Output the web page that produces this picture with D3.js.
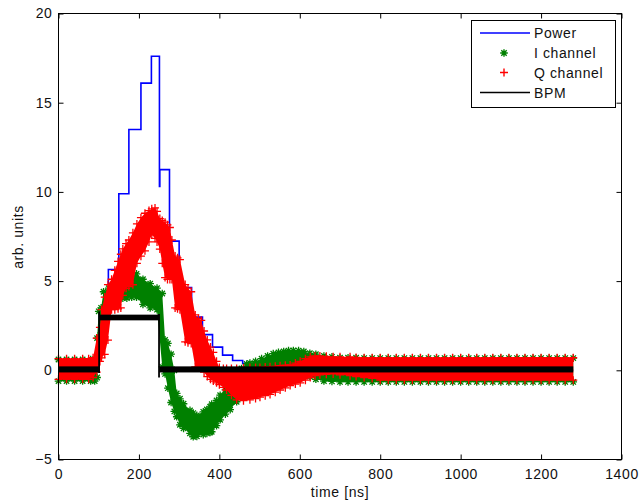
<!DOCTYPE html>
<html>
<head>
<meta charset="utf-8">
<script src="https://cdn.jsdelivr.net/npm/d3@7/dist/d3.min.js"></script>
<style>
  body { margin: 0; background: #fff; }
  text { font-family: "Liberation Sans", Arial, sans-serif; fill: #111; }
</style>
</head>
<body>
<svg width="639" height="502"></svg>
<script>

// tick labels
var xTicks = [0, 200, 400, 600, 800, 1000, 1200, 1400];
var yTicks = [-5, 0, 5, 10, 15, 20];

// Power: step levels, powLevel[i] holds from powEdge[i] to powEdge[i+1]
var powEdge  = [0, 101, 124, 150, 175, 205, 231, 251, 252, 276, 300, 331, 358, 383, 408, 433, 458, 484, 1280];
var powLevel = [0, 3.2, 5.65, 9.9, 13.5, 16.1, 17.6, 10.3, 11.25, 7.24, 4.64, 2.98, 2.0, 1.3, 0.85, 0.55, 0.38, 0];

// I channel: [time, lowest, highest] of the marker cloud
var iCloud = [
  [0,-0.8,0.8],[20,-0.8,0.8],[40,-0.8,0.8],[60,-0.8,0.8],[80,-0.8,0.8],[90,-0.8,0.8],
  [96,-0.6,2.0],[100,0.5,3.5],[106,1.9,3.7],[112,3.0,4.6],[125,3.8,4.8],[138,3.85,4.9],
  [150,3.85,4.95],[160,3.85,5.1],[170,3.85,5.3],[182,3.9,5.45],[194,3.9,5.6],[210,3.5,5.3],
  [228,3.3,5.05],[245,3.2,4.8],[258,0.0,4.5],[265,-0.4,1.9],[272,-1.2,1.7],[280,-2.0,1.1],
  [288,-2.5,0.2],[294,-2.8,-1.1],[302,-3.25,-1.4],[311,-3.45,-1.68],[327,-3.73,-2.05],
  [335,-3.92,-2.2],[344,-3.9,-2.33],[360,-3.8,-2.13],[369,-3.73,-2.0],[377,-3.68,-1.85],
  [381,-3.64,-1.7],[393,-3.3,-1.49],[402,-2.97,-1.2],[415,-2.65,-0.9],[427,-2.4,-0.55],
  [443,-1.96,-0.1],[455,-1.4,0.3],[468,-0.9,0.55],[476,-0.7,0.6],[490,-0.55,0.7],
  [505,-0.5,0.85],[520,-0.45,1.0],[534,-0.4,1.13],[547,-0.4,1.2],[560,-0.35,1.25],
  [572,-0.35,1.3],[584,-0.35,1.31],[597,-0.4,1.3],[610,-0.45,1.25],[625,-0.55,1.15],
  [640,-0.7,1.1],[660,-0.8,1.0],[680,-0.82,0.95],[700,-0.85,0.9],[720,-0.85,0.9],
  [740,-0.85,0.9],[760,-0.85,0.88],[780,-0.85,0.88],[800,-0.85,0.88],[820,-0.85,0.88],
  [840,-0.85,0.88],[860,-0.85,0.88],[880,-0.85,0.88],[900,-0.85,0.88],[920,-0.85,0.88],
  [940,-0.85,0.88],[960,-0.85,0.88],[980,-0.85,0.88],[1000,-0.85,0.88],[1020,-0.85,0.88],
  [1040,-0.85,0.88],[1060,-0.85,0.88],[1080,-0.85,0.88],[1100,-0.85,0.88],[1120,-0.85,0.88],
  [1140,-0.85,0.88],[1160,-0.85,0.88],[1180,-0.85,0.88],[1200,-0.85,0.88],[1220,-0.85,0.88],
  [1240,-0.85,0.88],[1260,-0.85,0.88],[1280,-0.85,0.88]
];

// Q channel: [time, lowest, highest] of the marker cloud
var qCloud = [
  [0,-0.7,0.85],[20,-0.7,0.85],[40,-0.7,0.85],[60,-0.7,0.85],[75,-0.7,0.85],[86,-0.6,0.9],
  [95,-0.3,2.0],[103,0.3,2.6],[107,0.5,3.6],[115,0.7,4.3],[123,1.5,5.0],[132,3.2,5.3],
  [140,3.2,5.8],[148,3.25,6.3],[155,3.3,6.7],[160,4.0,7.0],[168,4.4,7.3],[175,4.5,7.5],
  [185,4.6,7.9],[195,5.8,8.4],[205,6.2,8.75],[215,6.5,9.0],[225,7.0,9.15],[232,7.4,9.25],
  [240,7.2,9.3],[245,7.0,9.1],[252,6.6,8.7],[258,5.8,8.6],[265,5.0,8.5],[271,4.9,8.35],
  [277,4.9,8.2],[282,4.9,7.5],[290,3.3,6.6],[296,3.25,6.5],[302,3.2,6.4],[315,1.4,5.0],
  [322,1.35,4.8],[330,1.3,4.6],[340,0.0,3.3],[348,0.0,3.1],[355,0.0,3.0],[362,-0.3,2.4],
  [370,-0.55,1.9],[378,-0.7,1.5],[385,-0.8,1.2],[393,-0.9,0.7],[400,-1.0,0.35],
  [410,-1.15,0.3],[418,-1.3,0.3],[430,-1.6,0.3],[443,-1.85,0.3],[460,-1.9,0.33],
  [476,-1.85,0.35],[490,-1.78,0.35],[501,-1.7,0.35],[514,-1.62,0.38],[526,-1.55,0.4],
  [539,-1.42,0.42],[551,-1.3,0.45],[564,-1.18,0.48],[576,-1.05,0.5],[589,-0.97,0.6],
  [601,-0.9,0.7],[614,-0.75,0.85],[626,-0.6,0.95],[638,-0.5,1.0],[650,-0.45,1.0],
  [666,-0.42,0.98],[683,-0.4,0.95],[700,-0.45,0.95],[725,-0.5,0.95],[740,-0.55,0.92],
  [760,-0.6,0.9],[780,-0.65,0.9],[800,-0.75,0.9],[820,-0.75,0.9],[840,-0.75,0.9],
  [860,-0.75,0.9],[880,-0.75,0.9],[900,-0.75,0.9],[920,-0.75,0.9],[940,-0.75,0.9],
  [960,-0.75,0.9],[980,-0.75,0.9],[1000,-0.75,0.9],[1020,-0.75,0.9],[1040,-0.75,0.9],
  [1060,-0.75,0.9],[1080,-0.75,0.9],[1100,-0.75,0.9],[1120,-0.75,0.9],[1140,-0.75,0.9],
  [1160,-0.75,0.9],[1180,-0.75,0.9],[1200,-0.75,0.9],[1220,-0.75,0.9],[1240,-0.75,0.9],
  [1260,-0.75,0.9],[1280,-0.75,0.9]
];

// BPM: levels between edges, plus the low/high of the noisy trace
var bpmEdge  = [0, 101, 250, 1280];
var bpmLow   = [-0.12, 2.8, -0.12];
var bpmHigh  = [0.22, 3.12, 0.22];
var bpmJump  = [[101, -0.15, 3.3], [250, -0.4, 3.15]];

var legendNames = ["Power", "I channel", "Q channel", "BPM"];

var svg = d3.select("svg");
svg.append("rect").attr("width", 639).attr("height", 502).attr("fill", "#fff");

var x = d3.scaleLinear().domain([0, 1400]).range([58.5, 621.5]);
var y = d3.scaleLinear().domain([-5, 20]).range([459.5, 13.5]);

var plusPath = "M-4,0H4M0,-4V4";
var starPath = "M-3.8,0H3.8M0,-3.8V3.8M-2.7,-2.7L2.7,2.7M-2.7,2.7L2.7,-2.7";

// power staircase
var powPts = [];
powLevel.forEach(function(v, i){
    powPts.push([powEdge[i], v]);
    powPts.push([powEdge[i+1], v]);
});
svg.append("path")
    .attr("d", d3.line().x(function(d){ return x(d[0]); }).y(function(d){ return y(d[1]); })(powPts))
    .attr("fill", "none")
    .attr("stroke", "#0000ff")
    .attr("stroke-width", 1.6);

function drawCloud(data, color, marker){
    var g = svg.append("g");
    g.append("path")
        .attr("d", d3.area()
            .x(function(d){ return x(d[0]); })
            .y0(function(d){ return y(d[1]) - 3.5; })
            .y1(function(d){ return y(d[2]) + 3.5; })(data))
        .attr("fill", color);
    var edges = [];
    data.forEach(function(d){
        edges.push([d[0], y(d[1]) - 3.5]);
        edges.push([d[0], y(d[2]) + 3.5]);
    });
    g.selectAll("path.m")
        .data(edges)
        .enter()
        .append("path")
        .attr("class", "m")
        .attr("d", marker)
        .attr("transform", function(d){ return "translate(" + x(d[0]) + "," + d[1] + ")"; })
        .attr("stroke", color)
        .attr("stroke-width", 1.3)
        .attr("fill", "none");
}

drawCloud(iCloud, "#008000", starPath);
drawCloud(qCloud, "#ff0000", plusPath);

// BPM
bpmLow.forEach(function(v, i){
    svg.append("rect")
        .attr("x", x(bpmEdge[i]))
        .attr("width", x(bpmEdge[i+1]) - x(bpmEdge[i]))
        .attr("y", y(bpmHigh[i]))
        .attr("height", y(bpmLow[i]) - y(bpmHigh[i]))
        .attr("fill", "#000");
});
svg.selectAll("line.jump")
    .data(bpmJump)
    .enter()
    .append("line")
    .attr("x1", function(d){ return x(d[0]); })
    .attr("x2", function(d){ return x(d[0]); })
    .attr("y1", function(d){ return y(d[1]); })
    .attr("y2", function(d){ return y(d[2]); })
    .attr("stroke", "#000")
    .attr("stroke-width", 1.8);

// axes, ticks pointing inward on all four sides
function tidy(g){
    g.select(".domain").remove();
    g.selectAll("line").attr("stroke", "#000");
    g.selectAll("text").attr("fill", "#111").style("font-size", "14px").style("letter-spacing", "0.6px");
}
var fmt = d3.format("d");
svg.append("g").attr("transform", "translate(0,459.5)")
    .call(d3.axisBottom(x).tickValues(xTicks).tickFormat(fmt).tickSizeInner(-5).tickSizeOuter(0).tickPadding(10))
    .call(tidy);
svg.append("g").attr("transform", "translate(0,13.5)")
    .call(d3.axisTop(x).tickValues(xTicks).tickFormat("").tickSizeInner(-5).tickSizeOuter(0))
    .call(tidy);
svg.append("g").attr("transform", "translate(58.5,0)")
    .call(d3.axisLeft(y).tickValues(yTicks).tickFormat(fmt).tickSizeInner(-5).tickSizeOuter(0).tickPadding(6))
    .call(tidy);
svg.append("g").attr("transform", "translate(621.5,0)")
    .call(d3.axisRight(y).tickValues(yTicks).tickFormat("").tickSizeInner(-5).tickSizeOuter(0))
    .call(tidy);
svg.selectAll(".tick text").attr("font-family", "Liberation Sans, Arial, sans-serif");

svg.append("rect")
    .attr("x", 58.5).attr("y", 13.5)
    .attr("width", 563).attr("height", 446)
    .attr("fill", "none").attr("stroke", "#000").attr("stroke-width", 1);

svg.append("text")
    .attr("x", 340).attr("y", 497)
    .attr("text-anchor", "middle")
    .style("font-size", "14px").style("letter-spacing", "0.6px")
    .text("time [ns]");
svg.append("text")
    .attr("transform", "translate(23,237) rotate(-90)")
    .attr("text-anchor", "middle")
    .style("font-size", "14px").style("letter-spacing", "0.6px")
    .text("arb. units");

// legend
var leg = svg.append("g");
leg.append("rect")
    .attr("x", 471.5).attr("y", 20.5).attr("width", 144).attr("height", 87)
    .attr("fill", "#fff").attr("stroke", "#000").attr("stroke-width", 1);
var rowY = [33, 53, 72.5, 92.5];
leg.append("line").attr("x1", 480).attr("x2", 530).attr("y1", rowY[0]).attr("y2", rowY[0])
    .attr("stroke", "#0000ff").attr("stroke-width", 1.6);
leg.append("path").attr("d", starPath).attr("transform", "translate(504," + rowY[1] + ")")
    .attr("stroke", "#008000").attr("stroke-width", 1.4).attr("fill", "none");
leg.append("path").attr("d", plusPath).attr("transform", "translate(504," + rowY[2] + ")")
    .attr("stroke", "#ff0000").attr("stroke-width", 1.4).attr("fill", "none");
leg.append("line").attr("x1", 480).attr("x2", 530).attr("y1", rowY[3]).attr("y2", rowY[3])
    .attr("stroke", "#000").attr("stroke-width", 1.4);
leg.selectAll("text")
    .data(legendNames)
    .enter()
    .append("text")
    .attr("x", 534)
    .attr("y", function(d, i){ return rowY[i]; })
    .attr("dy", "0.36em")
    .style("font-size", "14px").style("letter-spacing", "0.6px")
    .text(function(d){ return d; });

</script>
</body>
</html>
